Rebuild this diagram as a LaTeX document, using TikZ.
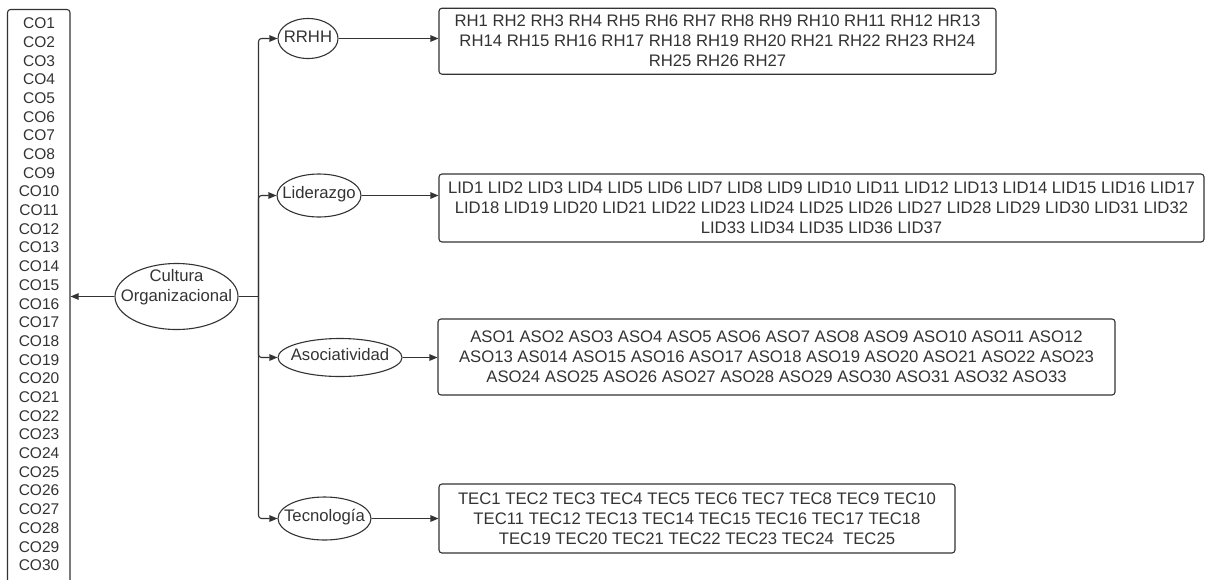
\documentclass[tikz,border=0pt]{standalone}
\usepackage{fontspec}
\setmainfont{Liberation Sans}
\usetikzlibrary{arrows.meta,shapes.geometric,fit}
\definecolor{ink}{HTML}{333333}
\begin{document}
\begin{tikzpicture}[x=1pt,y=-1pt,line width=1.1pt,
  font=\fontsize{16.7}{20}\selectfont, text=ink,
  ell/.style={ellipse, draw=ink, inner sep=0pt},
  boxnode/.style={rectangle, rounded corners=3pt, draw=ink, align=center, inner sep=0pt},
  arr/.style={-{Triangle[length=8pt,width=6.5pt]}, draw=ink},
  lbl/.style={inner sep=0pt, align=center, text=ink}]
\useasboundingbox (0,0) rectangle (1206,579);
\clip (0,0) rectangle (1206,579);

% left list
\node[draw=ink, rounded corners=3pt, inner sep=0pt, fit={(7.5,9.5) (70,620)}] (cobox) {};
\node[lbl, anchor=north, font=\fontsize{15.5}{18.69}\selectfont] (colist) at (39,17.3)
  {CO1\\CO2\\CO3\\CO4\\CO5\\CO6\\CO7\\CO8\\CO9\\CO10\\CO11\\CO12\\CO13\\CO14\\CO15\\CO16\\CO17\\CO18\\CO19\\CO20\\CO21\\CO22\\CO23\\CO24\\CO25\\CO26\\CO27\\CO28\\CO29\\CO30};

% central ellipse
\node[ell, minimum width=123pt, minimum height=66pt] (co) at (176.5,296.5) {};
\node[lbl] (cotxt) at (176.5,287) {Cultura\\Organizacional};

% dimension ellipses
\node[ell, minimum width=60pt, minimum height=40pt, label={[name=rrhhtxt, yshift=2pt]center:RRHH}] (rrhh) at (308,38.5) {};
\node[ell, minimum width=84pt, minimum height=43pt, label={[name=lidtxt, yshift=1pt]center:Liderazgo}] (lid) at (319,195.5) {};
\node[ell, minimum width=124pt, minimum height=38pt, label={[name=asotxt, yshift=3pt]center:Asociatividad}] (aso) at (340,357.5) {};
\node[ell, minimum width=93pt, minimum height=43pt, label={[name=tectxt, yshift=1pt]center:Tecnología}] (tec) at (324.5,518.5) {};

% item boxes
\node[boxnode, minimum width=557pt, minimum height=66pt] (rhb) at (717.5,41.2)
  {RH1 RH2 RH3 RH4 RH5 RH6 RH7 RH8 RH9 RH10 RH11 RH12 HR13\\RH14 RH15 RH16 RH17 RH18 RH19 RH20 RH21 RH22 RH23 RH24\\RH25 RH26 RH27};
\node[boxnode, minimum width=765pt, minimum height=68pt] (lidb) at (821.5,208)
  {LID1 LID2 LID3 LID4 LID5 LID6 LID7 LID8 LID9 LID10 LID11 LID12 LID13 LID14 LID15 LID16 LID17\\LID18 LID19 LID20 LID21 LID22 LID23 LID24 LID25 LID26 LID27 LID28 LID29 LID30 LID31 LID32\\LID33 LID34 LID35 LID36 LID37};
\node[boxnode, minimum width=677pt, minimum height=76pt] (asob) at (776.5,357)
  {ASO1 ASO2 ASO3 ASO4 ASO5 ASO6 ASO7 ASO8 ASO9 ASO10 ASO11 ASO12\\ASO13 AS014 ASO15 ASO16 ASO17 ASO18 ASO19 ASO20 ASO21 ASO22 ASO23\\ASO24 ASO25 ASO26 ASO27 ASO28 ASO29 ASO30 ASO31 ASO32 ASO33};
\node[boxnode, minimum width=516pt, minimum height=69pt] (tecb) at (697,518.5)
  {TEC1 TEC2 TEC3 TEC4 TEC5 TEC6 TEC7 TEC8 TEC9 TEC10\\TEC11 TEC12 TEC13 TEC14 TEC15 TEC16 TEC17 TEC18\\TEC19 TEC20 TEC21 TEC22 TEC23 TEC24\ \ TEC25};

% connectors
\draw[arr] (co.west) -- (co.west -| cobox.east);
\coordinate (trunk) at (258.5,296.5);
\draw[draw=ink] (co.east) -- (trunk);
\draw[arr, rounded corners=3pt] (trunk) |- (rrhh.west);
\draw[arr, rounded corners=3pt] (trunk) |- (lid.west);
\draw[arr, rounded corners=3pt] (trunk) |- (aso.west);
\draw[arr, rounded corners=3pt] (trunk) |- (tec.west);
\draw[arr] (rrhh.east) -- (rrhh.east -| rhb.west);
\draw[arr] (lid.east) -- (lid.east -| lidb.west);
\draw[arr] (aso.east) -- (aso.east -| asob.west);
\draw[arr] (tec.east) -- (tec.east -| tecb.west);
\end{tikzpicture}
\end{document}
